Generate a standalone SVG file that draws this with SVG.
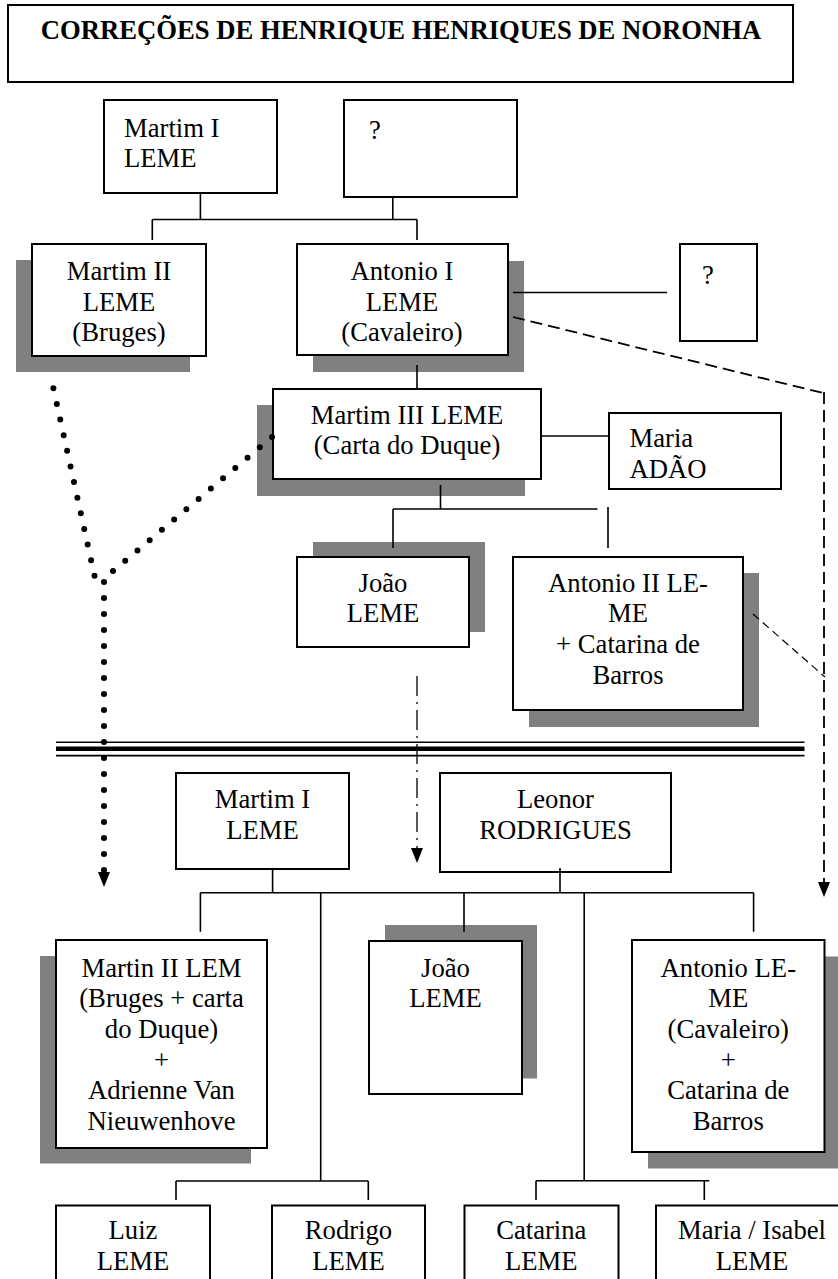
<svg xmlns="http://www.w3.org/2000/svg" width="838" height="1279" viewBox="0 0 838 1279">
<style>
.bg{fill:#fff}
.box{fill:#fff;stroke:#000;stroke-width:2}
.sh{fill:#808080}
.t{font-family:"Liberation Serif","Times New Roman",serif;font-size:26.67px;fill:#000}
.c{text-anchor:middle}
.title{font-weight:bold}
.ln{stroke:#000;stroke-width:1.6;fill:none}
.dash{stroke-width:1.8;stroke-dasharray:12 6}
.fdash{stroke-width:1.2;stroke-dasharray:8 5}
.dot{stroke-width:6;stroke-dasharray:0 16;stroke-linecap:round}
.dd{stroke-width:1.3;stroke-dasharray:20 6 2 6}
</style>
<defs>
<marker id="arr" viewBox="0 0 15 12" refX="0" refY="6" markerWidth="15" markerHeight="12" markerUnits="userSpaceOnUse" orient="auto">
<path d="M0,0 L15,6 L0,12 z" fill="#000"/>
</marker>
</defs>
<rect class="bg" x="0" y="0" width="838" height="1279"/>

<g id="title">
<rect class="box" x="8" y="5" width="785" height="77"/>
<text class="t c title" x="401" y="39">CORREÇÕES DE HENRIQUE HENRIQUES DE NORONHA</text>
</g>

<g id="n-martim1-top">
<rect class="box" x="104" y="100" width="173" height="93"/>
<text class="t" x="124" y="136.5">Martim I</text>
<text class="t" x="124" y="167">LEME</text>
</g>
<g id="n-q-top">
<rect class="box" x="344" y="100" width="173" height="97"/>
<text class="t" x="369" y="139">?</text>
</g>

<g id="n-martim2">
<rect class="sh" x="16" y="260" width="174" height="112"/>
<rect class="box" x="32" y="244" width="174" height="112"/>
<text class="t c" x="119" y="280">Martim II</text>
<text class="t c" x="119" y="310.5">LEME</text>
<text class="t c" x="119" y="341">(Bruges)</text>
</g>
<g id="n-antonio1">
<rect class="sh" x="313" y="261" width="211" height="111"/>
<rect class="box" x="297" y="244" width="211" height="111"/>
<text class="t c" x="402" y="280">Antonio I</text>
<text class="t c" x="402" y="310.5">LEME</text>
<text class="t c" x="402" y="341">(Cavaleiro)</text>
</g>
<g id="n-q-right">
<rect class="box" x="680" y="244" width="77" height="97"/>
<text class="t" x="702" y="284">?</text>
</g>

<g id="n-martim3">
<rect class="sh" x="257" y="405" width="268" height="91"/>
<rect class="box" x="273" y="389" width="268" height="90"/>
<text class="t c" x="407" y="423.5">Martim III LEME</text>
<text class="t c" x="407" y="454">(Carta do Duque)</text>
</g>
<g id="n-maria-adao">
<rect class="box" x="609" y="413" width="172" height="76"/>
<text class="t" x="629.5" y="447">Maria</text>
<text class="t" x="629.5" y="477.5">ADÃO</text>
</g>

<g id="n-joao-top">
<rect class="sh" x="313" y="542" width="172" height="90"/>
<rect class="box" x="297" y="557" width="172" height="90"/>
<text class="t c" x="383" y="591.5">João</text>
<text class="t c" x="383" y="622">LEME</text>
</g>
<g id="n-antonio2">
<rect class="sh" x="529" y="573" width="230" height="154"/>
<rect class="box" x="513" y="557" width="230" height="153"/>
<text class="t c" x="628" y="591.5">Antonio II LE-</text>
<text class="t c" x="628" y="622">ME</text>
<text class="t c" x="628" y="652.5">+ Catarina de</text>
<text class="t c" x="628" y="683.5">Barros</text>
</g>

<g id="separator">
<line x1="56" y1="742.3" x2="804.5" y2="742.3" stroke="#000" stroke-width="1.6"/>
<line x1="56" y1="748.8" x2="804.5" y2="748.8" stroke="#000" stroke-width="4.4"/>
<line x1="56" y1="755.6" x2="804.5" y2="755.6" stroke="#000" stroke-width="1.6"/>
</g>

<g id="n-martim1-bot">
<rect class="box" x="176" y="773" width="173" height="96"/>
<text class="t c" x="262.5" y="808.3">Martim I</text>
<text class="t c" x="262.5" y="839">LEME</text>
</g>
<g id="n-leonor">
<rect class="box" x="440" y="773" width="231" height="99"/>
<text class="t c" x="555.5" y="808.3">Leonor</text>
<text class="t c" x="555.5" y="839">RODRIGUES</text>
</g>

<g id="n-martin2-lem">
<rect class="sh" x="40" y="956" width="211" height="207.5"/>
<rect class="box" x="56" y="940" width="211" height="208"/>
<text class="t c" x="161.5" y="976.7">Martin II LEM</text>
<text class="t c" x="161.5" y="1007.3">(Bruges + carta</text>
<text class="t c" x="161.5" y="1038">do Duque)</text>
<text class="t c" x="161.5" y="1068.7">+</text>
<text class="t c" x="161.5" y="1099">Adrienne Van</text>
<text class="t c" x="161.5" y="1129.5">Nieuwenhove</text>
</g>
<g id="n-joao-bot">
<rect class="sh" x="385" y="925" width="152" height="153.5"/>
<rect class="box" x="369" y="941" width="153" height="153"/>
<text class="t c" x="445.5" y="976.7">João</text>
<text class="t c" x="445.5" y="1007.3">LEME</text>
</g>
<g id="n-antonio-leme">
<rect class="sh" x="648" y="956.5" width="193" height="212"/>
<rect class="box" x="632" y="940" width="192.5" height="212"/>
<text class="t c" x="728.3" y="976.7">Antonio LE-</text>
<text class="t c" x="728.3" y="1007.3">ME</text>
<text class="t c" x="728.3" y="1038">(Cavaleiro)</text>
<text class="t c" x="728.3" y="1068.7">+</text>
<text class="t c" x="728.3" y="1099">Catarina de</text>
<text class="t c" x="728.3" y="1129.5">Barros</text>
</g>

<g id="n-luiz">
<rect class="box" x="56" y="1205.5" width="154" height="100"/>
<text class="t c" x="133" y="1239.3">Luiz</text>
<text class="t c" x="133" y="1270">LEME</text>
</g>
<g id="n-rodrigo">
<rect class="box" x="272" y="1205.5" width="153" height="100"/>
<text class="t c" x="348.5" y="1239.3">Rodrigo</text>
<text class="t c" x="348.5" y="1270">LEME</text>
</g>
<g id="n-catarina">
<rect class="box" x="464.5" y="1205.5" width="154" height="100"/>
<text class="t c" x="541.3" y="1239.3">Catarina</text>
<text class="t c" x="541.3" y="1270">LEME</text>
</g>
<g id="n-maria-isabel">
<rect class="box" x="656" y="1205.5" width="192" height="100"/>
<text class="t c" x="752" y="1239.3">Maria / Isabel</text>
<text class="t c" x="752" y="1270">LEME</text>
</g>

<g id="connectors">
<path class="ln" d="M200.4,193 V219.5 M392.8,197 V219.5 M152.3,219.5 H417 M152.3,219.5 V240 M417,219.5 V240"/>
<path class="ln" d="M513,292.5 H667"/>
<path class="ln dash" d="M513,317 L823,393"/>
<path class="ln dash" d="M824,392 V882" marker-end="url(#arr)"/>
<path class="ln fdash" d="M753,614 L825,677"/>
<path class="ln" d="M417,365 V389"/>
<path class="ln" d="M541,436 H609"/>
<path class="ln" d="M440.5,485 V509 M393,509 H597.5 M393,509 V548 M608,507 V548"/>
<path class="ln dot" d="M53.4,388.3 L95,578"/>
<path class="ln dot" d="M272,437 L106,577"/>
<path class="ln dot" d="M104,582 V872" marker-end="url(#arr)"/>
<path class="ln dd" d="M417,676 V848" marker-end="url(#arr)"/>
<path class="ln" d="M272.6,869 V892.7 M560,868 V892.7 M200.4,892.7 H753.6 M200.4,892.7 V931.7 M464,892.7 V931.7 M753.6,892.7 V931.7"/>
<path class="ln" d="M320.7,892.7 V1181 M176,1181 H368.3 M176,1181 V1200 M368.3,1181 V1200"/>
<path class="ln" d="M584.2,892.7 V1180.7 M536,1180.7 H709.3 M536,1180.7 V1200 M704.3,1180.7 V1200"/>
</g>
</svg>
